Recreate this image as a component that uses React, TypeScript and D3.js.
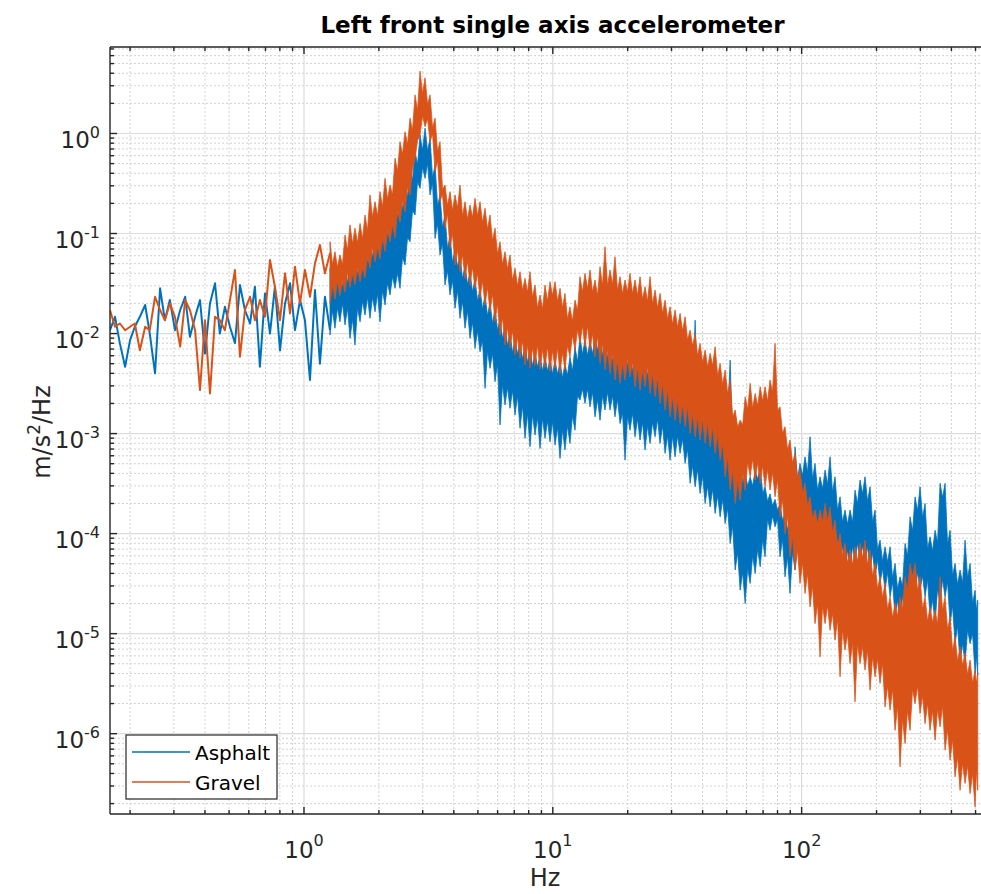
import React from 'react';
import * as d3 from 'd3';

// Low-frequency part of each spectrum, where single samples are still resolved
const lowFreqHz = [0.166, 0.174, 0.182, 0.191, 0.2, 0.209, 0.219, 0.23, 0.24, 0.252, 0.264, 0.276, 0.289, 0.303, 0.318, 0.333, 0.348, 0.365, 0.382, 0.4, 0.419, 0.439, 0.459, 0.481, 0.504, 0.528, 0.553, 0.579, 0.607, 0.635, 0.665, 0.697, 0.73, 0.764, 0.801, 0.839, 0.879, 0.92, 0.964, 1.009, 1.057, 1.107, 1.159, 1.214, 1.272];
const asphaltLowPsd = [1.08e-2, 1.47e-2, 7.97e-3, 4.66e-3, 8.6e-3, 1.17e-2, 1.47e-2, 1.93e-2, 1.0e-2, 4.0e-3, 2.83e-2, 1.36e-2, 2.16e-2, 1.08e-2, 1.72e-2, 2.33e-2, 9.3e-3, 1.47e-2, 2.16e-2, 6.3e-3, 2.0e-2, 3.18e-2, 1.0e-2, 1.85e-2, 1.17e-2, 8.0e-3, 3.05e-2, 1.72e-2, 1.26e-2, 2.94e-2, 4.66e-3, 2.52e-2, 1.0e-2, 2.94e-2, 6.8e-3, 2.0e-2, 3.18e-2, 1.08e-2, 2.16e-2, 1.36e-2, 3.43e-3, 2.72e-2, 5.0e-3, 2.33e-2, 1.08e-2];
const gravelLowPsd = [1.72e-2, 1.17e-2, 1.26e-2, 1.08e-2, 1.17e-2, 1.26e-2, 6.8e-3, 1.17e-2, 1.08e-2, 2.33e-2, 1.72e-2, 1.36e-2, 2.0e-2, 1.47e-2, 7.4e-3, 2.16e-2, 1.72e-2, 1.08e-2, 2.72e-3, 1.36e-2, 2.52e-3, 1.47e-2, 1.36e-2, 1.08e-2, 2.16e-2, 4.32e-2, 5.86e-3, 1.72e-2, 2.33e-2, 1.36e-2, 2.16e-2, 1.47e-2, 5.43e-2, 2.94e-2, 1.36e-2, 4.0e-2, 1.59e-2, 4.66e-2, 2.0e-2, 4.32e-2, 2.33e-2, 5.03e-2, 7.67e-2, 4.0e-2, 6.34e-2];

// Dense part of each spectrum: peak envelope (max / min) per frequency bin
const bandFreqHz = [
  1.272, 1.332, 1.395, 1.462, 1.531, 1.603, 1.68, 1.759, 1.842, 1.93, 2.021, 2.117, 2.217, 2.322, 2.432, 2.547, 2.668, 2.795, 2.927, 3.066, 3.211, 3.363, 3.521, 3.688, 3.863, 4.046, 4.237, 4.438, 4.648, 4.868, 5.099, 5.34, 5.593, 5.858, 6.135, 6.426, 6.73, 7.049, 7.383, 7.732, 8.098, 8.482, 8.884, 9.304, 9.745, 10.21, 10.69,
  11.19, 11.72, 12.28, 12.86, 13.47, 14.11, 14.78, 15.48, 16.21, 16.98, 17.78, 18.63, 19.51, 20.43, 21.4, 22.42, 23.48, 24.59, 25.76, 26.98, 28.26, 29.6, 31.0, 32.47, 34.01, 35.63, 37.32, 39.08, 40.94, 42.88, 44.91, 47.04, 49.27, 51.61, 54.06, 56.62, 59.3, 62.11, 65.06, 68.14,
  71.29, 74.65, 78.18, 81.88, 85.74, 89.81, 94.07, 98.5, 103.2, 108.1, 113.2, 118.6, 124.2, 130.1, 136.2, 142.7, 149.4, 156.5, 163.9, 171.7, 179.8, 188.4, 197.3, 206.6, 216.4, 226.7, 237.4, 248.6, 260.4, 272.8, 285.7, 299.2, 313.4, 328.2, 343.8, 360.1, 377.1, 395.0, 413.7, 433.3, 453.8, 475.3, 497.8, 510
];
const asphaltUpper = [
  4.49e-2, 4.15e-2, 4.84e-2, 4.49e-2, 5.65e-2, 5.22e-2, 6.1e-2, 7.11e-2, 8.28e-2, 9.66e-2, 0.113, 0.131, 0.165, 0.193, 0.243, 0.33, 0.449, 0.658, 0.966, 1.13, 0.895, 0.484, 0.243, 0.153, 9.66e-2, 7.11e-2, 6.1e-2, 4.84e-2, 4.15e-2, 3.56e-2, 2.83e-2, 2.43e-2, 2.08e-2, 1.79e-2, 1.42e-2, 1.22e-2, 1.04e-2, 8.95e-3, 8.28e-3, 7.67e-3, 7.11e-3, 6.58e-3, 6.1e-3, 5.86e-3, 5.65e-3, 5.43e-3, 5.22e-3,
  5.03e-3, 5.86e-3, 7.38e-3, 9.29e-3, 8.61e-3, 8.61e-3, 9.29e-3, 1.08e-2, 8.61e-3, 7.97e-3, 7.38e-3, 6.84e-3, 6.34e-3, 6.84e-3, 5.86e-3, 5.86e-3, 5.43e-3, 5.43e-3, 5.03e-3, 4.66e-3, 4.32e-3, 4.0e-3, 3.7e-3, 3.43e-3, 3.18e-3, 3.18e-3, 1.36e-2, 2.72e-3, 2.52e-3, 2.33e-3, 2.16e-3, 2.0e-3, 1.85e-3, 5.43e-3, 1.08e-3, 5.86e-4, 4.0e-4, 3.7e-4, 4.32e-4, 4.66e-4,
  2.94e-4, 2.5e-4, 2.2e-4, 2.0e-4, 1.6e-4, 1.3e-4, 7.38e-4, 5.03e-4, 5.86e-4, 9.29e-4, 5.03e-4, 3.7e-4, 4.32e-4, 5.86e-4, 3.7e-4, 2.33e-4, 1.72e-4, 1.72e-4, 2.72e-4, 3.43e-4, 3.7e-4, 2.94e-4, 1.72e-4, 8.61e-5, 7.38e-5, 7.38e-5, 5.03e-5, 3.7e-5, 7.97e-5, 1.47e-4, 2.33e-4, 2.94e-4, 2.0e-4, 9.29e-5, 1.08e-4, 3.18e-4, 3.18e-4, 1.08e-4, 5.03e-5, 4.32e-5, 8.61e-5, 5.03e-5, 2.72e-5, 2.16e-5
];
const asphaltLower = [
  9.66e-3, 1.13e-2, 1.31e-2, 1.22e-2, 8.95e-3, 7.67e-3, 1.31e-2, 1.53e-2, 1.42e-2, 1.65e-2, 1.31e-2, 1.93e-2, 2.43e-2, 2.83e-2, 2.83e-2, 4.84e-2, 8.28e-2, 0.153, 0.283, 0.356, 0.243, 8.95e-2, 6.1e-2, 3.05e-2, 2.43e-2, 1.79e-2, 1.42e-2, 1.13e-2, 8.95e-3, 7.11e-3, 6.58e-3, 2.83e-3, 4.49e-3, 3.3e-3, 1.22e-3, 1.93e-3, 1.79e-3, 1.53e-3, 1.13e-3, 8.95e-4, 7.38e-4, 9.66e-4, 7.11e-4, 8.95e-4, 8.28e-4, 7.67e-4, 5.65e-4,
  6.84e-4, 7.97e-4, 1.08e-3, 2.16e-3, 2.0e-3, 1.85e-3, 1.47e-3, 1.36e-3, 1.72e-3, 1.72e-3, 1.47e-3, 1.26e-3, 5.43e-4, 1.08e-3, 9.29e-4, 8.61e-4, 6.84e-4, 7.97e-4, 9.29e-4, 7.97e-4, 6.34e-4, 5.43e-4, 5.86e-4, 6.34e-4, 5.03e-4, 3.18e-4, 2.94e-4, 2.52e-4, 2.0e-4, 1.85e-4, 1.59e-4, 1.47e-4, 1.26e-4, 7.97e-5, 4.32e-5, 2.72e-5, 2.0e-5, 3.18e-5, 4.0e-5, 4.66e-5,
  5.86e-5, 1.08e-4, 1.17e-4, 5.86e-5, 3.7e-5, 2.52e-5, 4.32e-5, 5.03e-5, 5.43e-5, 6.84e-5, 7.97e-5, 7.97e-5, 8.61e-5, 7.38e-5, 5.86e-5, 5.03e-5, 4.32e-5, 4.32e-5, 5.03e-5, 5.43e-5, 5.03e-5, 4.32e-5, 3.7e-5, 3.18e-5, 2.72e-5, 2.33e-5, 1.47e-5, 1.08e-5, 1.72e-5, 2.0e-5, 2.72e-5, 2.72e-5, 2.33e-5, 1.47e-5, 1.26e-5, 2.0e-5, 2.33e-5, 1.26e-5, 7.97e-6, 5.03e-6, 5.03e-6, 7.97e-6, 4.0e-6, 3.8e-6
];
const gravelUpper = [
  8.28e-2, 6.58e-2, 6.1e-2, 9.66e-2, 0.122, 0.113, 0.126, 0.153, 0.243, 0.208, 0.262, 0.356, 0.305, 0.565, 0.828, 1.04, 1.42, 2.43, 4.2, 3.6, 2.43, 1.42, 0.828, 0.305, 0.262, 0.243, 0.305, 0.208, 0.193, 0.225, 0.208, 0.179, 0.153, 0.113, 8.28e-2, 6.58e-2, 6.1e-2, 4.49e-2, 4.15e-2, 3.56e-2, 4.15e-2, 3.05e-2, 2.43e-2, 3.05e-2, 3.3e-2, 3.3e-2, 2.83e-2,
  2.52e-2, 1.85e-2, 2.16e-2, 3.7e-2, 4.0e-2, 4.32e-2, 3.43e-2, 4.66e-2, 7.38e-2, 4.32e-2, 5.86e-2, 3.7e-2, 3.43e-2, 4.0e-2, 3.43e-2, 3.7e-2, 2.94e-2, 3.7e-2, 2.72e-2, 2.52e-2, 2.16e-2, 1.85e-2, 1.72e-2, 1.59e-2, 1.47e-2, 1.08e-2, 1.0e-2, 7.97e-3, 6.84e-3, 6.34e-3, 7.38e-3, 5.03e-3, 4.32e-3, 3.43e-3, 1.72e-3, 1.36e-3, 2.33e-3, 3.18e-3, 2.52e-3, 2.94e-3,
  2.94e-3, 3.43e-3, 7.97e-3, 1.85e-3, 1.17e-3, 8.61e-4, 6.34e-4, 4.32e-4, 3.18e-4, 2.33e-4, 1.72e-4, 1.72e-4, 2.0e-4, 1.85e-4, 1.36e-4, 1.0e-4, 7.97e-5, 6.84e-5, 7.38e-5, 7.97e-5, 8.61e-5, 6.84e-5, 5.03e-5, 3.7e-5, 3.18e-5, 2.33e-5, 2.0e-5, 2.33e-5, 3.7e-5, 5.03e-5, 5.03e-5, 3.7e-5, 2.33e-5, 1.85e-5, 1.72e-5, 3.7e-5, 2.33e-5, 1.47e-5, 9.29e-6, 7.38e-6, 6.34e-6, 5.43e-6, 4.32e-6, 4.0e-6
];
const gravelLower = [
  2.0e-2, 2.2e-2, 2.4e-2, 2.6e-2, 2.9e-2, 3.1e-2, 3.3e-2, 3.6e-2, 4.5e-2, 5.2e-2, 5.6e-2, 6.6e-2, 8.3e-2, 9.0e-2, 0.131, 0.165, 0.243, 0.565, 0.966, 1.17, 0.828, 0.415, 0.208, 0.113, 7.11e-2, 4.84e-2, 4.15e-2, 3.56e-2, 3.05e-2, 2.83e-2, 2.25e-2, 1.93e-2, 1.65e-2, 1.31e-2, 9.66e-3, 7.67e-3, 7.11e-3, 6.1e-3, 5.65e-3, 4.84e-3, 4.49e-3, 4.8e-3, 4.4e-3, 4.6e-3, 4.2e-3, 4.5e-3, 4.0e-3,
  4.32e-3, 5.86e-3, 6.84e-3, 7.97e-3, 7.38e-3, 6.84e-3, 5.86e-3, 5.03e-3, 4.32e-3, 4.0e-3, 3.43e-3, 3.18e-3, 3.43e-3, 3.7e-3, 2.94e-3, 2.72e-3, 2.94e-3, 2.52e-3, 2.33e-3, 2.0e-3, 1.72e-3, 1.47e-3, 1.36e-3, 1.26e-3, 1.17e-3, 1.0e-3, 9.29e-4, 8.61e-4, 7.97e-4, 7.38e-4, 6.34e-4, 5.43e-4, 3.7e-4, 2.72e-4, 2.0e-4, 2.16e-4, 2.72e-4, 3.7e-4, 3.43e-4, 3.18e-4,
  2.94e-4, 2.72e-4, 2.33e-4, 1.47e-4, 1.0e-4, 5.86e-5, 4.32e-5, 3.18e-5, 2.52e-5, 1.85e-5, 1.26e-5, 5.86e-6, 1.26e-5, 1.08e-5, 8.61e-6, 3.7e-6, 6.84e-6, 5.03e-6, 2.08e-6, 5.03e-6, 4.32e-6, 2.72e-6, 3.7e-6, 3.18e-6, 1.85e-6, 1.72e-6, 1.08e-6, 4.66e-7, 7.97e-7, 1.08e-6, 2.0e-6, 1.59e-6, 1.26e-6, 1.08e-6, 8.61e-7, 1.17e-6, 6.84e-7, 5.43e-7, 3.7e-7, 2.72e-7, 3.18e-7, 2.52e-7, 1.85e-7, 2.72e-7
];

// Between neighbouring peak bins: where the envelope falls back to the solid core
const bandMidFreqHz = [
  1.302, 1.363, 1.428, 1.496, 1.567, 1.641, 1.719, 1.8, 1.885, 1.975, 2.068, 2.167, 2.269, 2.376, 2.489, 2.607, 2.73, 2.86, 2.995, 3.138, 3.286, 3.442, 3.603, 3.774, 3.953, 4.141, 4.336, 4.542, 4.757, 4.982, 5.218, 5.465, 5.724, 5.995, 6.279, 6.576, 6.887, 7.214, 7.556, 7.913, 8.287, 8.68, 9.092, 9.522, 9.973, 10.45, 10.94,
  11.45, 11.99, 12.57, 13.16, 13.79, 14.44, 15.13, 15.84, 16.59, 17.38, 18.2, 19.07, 19.97, 20.91, 21.9, 22.94, 24.03, 25.17, 26.36, 27.61, 28.92, 30.29, 31.73, 33.23, 34.81, 36.46, 38.19, 40.0, 41.9, 43.88, 45.96, 48.14, 50.42, 52.82, 55.32, 57.95, 60.69, 63.56, 66.58, 69.74,
  72.96, 76.4, 80.01, 83.8, 87.75, 91.91, 96.27, 100.8, 105.6, 110.6, 115.9, 121.4, 127.1, 133.1, 139.4, 146.0, 152.9, 160.2, 167.7, 175.7, 184.0, 192.8, 201.9, 211.4, 221.5, 232.0, 243.0, 254.4, 266.5, 279.2, 292.4, 306.2, 320.7, 335.9, 351.8, 368.5, 385.9, 404.2, 423.4, 443.4, 464.4, 486.4, 504
];
const asphaltUpperCore = [
  2.9e-2, 3.1e-2, 2.9e-2, 3.2e-2, 3.7e-2, 3.9e-2, 4.1e-2, 5.1e-2, 5.8e-2, 7.0e-2,
  7.9e-2, 9.4e-2, 0.116, 0.145, 0.175, 0.23, 0.34, 0.49, 0.68, 0.67,
  0.36, 0.19, 0.115, 7.0e-2, 5.1e-2, 4.6e-2, 3.5e-2, 3.1e-2, 2.6e-2, 2.1e-2,
  1.75e-2, 1.5e-2, 1.25e-2, 1.07e-2, 8.8e-3, 7.5e-3, 6.4e-3, 6.2e-3, 5.5e-3, 5.1e-3,
  4.7e-3, 4.6e-3, 4.2e-3, 4.2e-3, 3.9e-3, 3.9e-3, 3.6e-3, 3.8e-3, 4.2e-3, 5.2e-3,
  6.2e-3, 6.0e-3, 6.2e-3, 6.7e-3, 6.0e-3, 5.7e-3, 5.3e-3, 4.9e-3, 4.6e-3, 4.8e-3,
  4.2e-3, 4.1e-3, 4.1e-3, 3.8e-3, 3.6e-3, 3.4e-3, 3.1e-3, 2.9e-3, 2.7e-3, 2.5e-3,
  2.4e-3, 2.3e-3, 2.4e-3, 2.2e-3, 1.8e-3, 1.7e-3, 1.55e-3, 1.45e-3, 1.33e-3, 1.4e-3,
  8.1e-4, 4.7e-4, 3.2e-4, 3.0e-4, 3.0e-4, 3.5e-4, 2.5e-4, 2.1e-4, 1.9e-4, 1.7e-4,
  1.35e-4, 1.1e-4, 1.2e-4, 3.5e-4, 3.8e-4, 4.1e-4, 3.5e-4, 2.7e-4, 2.8e-4, 3.1e-4,
  2.6e-4, 1.7e-4, 1.3e-4, 1.24e-4, 1.3e-4, 2.0e-4, 2.5e-4, 2.1e-4, 1.3e-4, 6.9e-5,
  5.3e-5, 5.2e-5, 3.6e-5, 2.8e-5, 3.0e-5, 6.0e-5, 1.06e-4, 1.7e-4, 1.45e-4, 7.0e-5,
  6.7e-5, 8.1e-5, 2.3e-4, 7.8e-5, 3.8e-5, 3.1e-5, 3.2e-5, 3.6e-5, 2.0e-5, 1.7e-5
];
const asphaltLowerCore = [
  1.7e-2, 1.8e-2, 2.0e-2, 1.8e-2, 1.4e-2, 1.8e-2, 2.1e-2, 2.3e-2, 2.3e-2, 2.5e-2,
  2.7e-2, 3.2e-2, 3.7e-2, 4.0e-2, 5.8e-2, 9.1e-2, 0.17, 0.33, 0.46, 0.5,
  0.32, 0.125, 7.9e-2, 4.3e-2, 3.4e-2, 2.7e-2, 2.1e-2, 1.7e-2, 1.3e-2, 1.07e-2,
  8.6e-3, 6.7e-3, 6.3e-3, 5.0e-3, 3.1e-3, 2.9e-3, 2.7e-3, 2.4e-3, 1.9e-3, 1.6e-3,
  1.55e-3, 1.45e-3, 1.43e-3, 1.34e-3, 1.32e-3, 1.15e-3, 1.1e-3, 1.2e-3, 1.5e-3, 2.4e-3,
  2.8e-3, 2.8e-3, 2.6e-3, 2.2e-3, 2.4e-3, 2.6e-3, 2.4e-3, 2.2e-3, 1.6e-3, 1.5e-3,
  1.6e-3, 1.4e-3, 1.3e-3, 1.2e-3, 1.3e-3, 1.4e-3, 1.2e-3, 9.5e-4, 9.4e-4, 9.5e-4,
  8.9e-4, 7.0e-4, 4.8e-4, 4.4e-4, 3.8e-4, 3.0e-4, 2.8e-4, 2.4e-4, 2.2e-4, 1.8e-4,
  1.2e-4, 6.5e-5, 4.1e-5, 4.5e-5, 6.0e-5, 7.0e-5, 8.8e-5, 1.4e-4, 1.5e-4, 1.4e-4,
  8.8e-5, 5.9e-5, 6.5e-5, 7.5e-5, 8.1e-5, 9.6e-5, 1.1e-4, 1.2e-4, 1.2e-4, 1.3e-4,
  1.1e-4, 8.8e-5, 7.5e-5, 6.9e-5, 7.5e-5, 8.1e-5, 7.6e-5, 7.5e-5, 6.5e-5, 5.5e-5,
  4.5e-5, 4.1e-5, 3.3e-5, 2.2e-5, 2.4e-5, 3.0e-5, 4.1e-5, 4.1e-5, 3.8e-5, 3.5e-5,
  2.2e-5, 2.8e-5, 3.5e-5, 3.3e-5, 1.9e-5, 1.2e-5, 8.0e-6, 1.1e-5, 1.0e-5, 6.0e-6
];
const gravelUpperCore = [
  4.9e-2, 4.6e-2, 4.9e-2, 6.8e-2, 7.9e-2, 8.1e-2, 8.8e-2, 0.107, 0.146, 0.15,
  0.183, 0.22, 0.244, 0.42, 0.62, 0.78, 1.07, 1.7, 2.5, 1.95,
  1.14, 0.66, 0.275, 0.19, 0.17, 0.18, 0.15, 0.139, 0.145, 0.15,
  0.129, 0.11, 8.5e-2, 6.2e-2, 4.9e-2, 4.4e-2, 3.4e-2, 3.0e-2, 2.7e-2, 2.6e-2,
  2.3e-2, 1.8e-2, 1.75e-2, 2.1e-2, 2.4e-2, 2.1e-2, 1.8e-2, 1.4e-2, 1.33e-2, 1.7e-2,
  2.6e-2, 2.8e-2, 2.6e-2, 2.4e-2, 3.0e-2, 3.0e-2, 3.1e-2, 2.7e-2, 2.5e-2, 2.6e-2,
  2.5e-2, 2.4e-2, 2.2e-2, 2.1e-2, 1.96e-2, 1.8e-2, 1.6e-2, 1.4e-2, 1.24e-2, 1.15e-2,
  1.06e-2, 8.6e-3, 7.5e-3, 6.0e-3, 5.1e-3, 4.6e-3, 4.8e-3, 3.8e-3, 3.1e-3, 2.5e-3,
  1.46e-3, 1.16e-3, 1.22e-3, 1.75e-3, 1.8e-3, 1.9e-3, 2.1e-3, 2.1e-3, 2.6e-3, 1.7e-3,
  1.0e-3, 6.9e-4, 5.1e-4, 3.5e-4, 2.5e-4, 1.9e-4, 1.4e-4, 1.24e-4, 1.3e-4, 1.33e-4,
  1.0e-4, 7.5e-5, 6.0e-5, 5.1e-5, 4.9e-5, 5.3e-5, 5.7e-5, 4.9e-5, 3.8e-5, 2.8e-5,
  2.3e-5, 1.75e-5, 1.44e-5, 1.5e-5, 1.75e-5, 2.7e-5, 3.6e-5, 2.7e-5, 1.75e-5, 1.33e-5,
  1.3e-5, 1.24e-5, 1.7e-5, 1.1e-5, 6.7e-6, 5.3e-6, 4.8e-6, 3.9e-6, 3.2e-6, 3.2e-6
];
const gravelLowerCore = [
  3.1e-2, 3.4e-2, 3.4e-2, 4.1e-2, 4.0e-2, 4.6e-2, 4.7e-2, 5.9e-2, 7.3e-2, 7.3e-2,
  9.2e-2, 0.108, 0.126, 0.17, 0.215, 0.29, 0.45, 0.85, 1.5, 1.4,
  1.0, 0.54, 0.25, 0.158, 0.1, 6.8e-2, 6.2e-2, 5.3e-2, 4.6e-2, 4.0e-2,
  3.4e-2, 2.9e-2, 2.5e-2, 2.0e-2, 1.45e-2, 1.15e-2, 1.07e-2, 9.2e-3, 8.5e-3, 7.7e-3,
  7.2e-3, 7.7e-3, 6.9e-3, 7.4e-3, 6.8e-3, 7.2e-3, 6.5e-3, 7.6e-3, 9.6e-3, 1.1e-2,
  1.2e-2, 1.2e-2, 1.0e-2, 9.4e-3, 8.0e-3, 6.9e-3, 6.4e-3, 5.5e-3, 5.1e-3, 5.6e-3,
  5.2e-3, 4.7e-3, 4.4e-3, 4.7e-3, 4.0e-3, 3.7e-3, 3.2e-3, 2.8e-3, 2.4e-3, 2.2e-3,
  2.0e-3, 1.9e-3, 1.6e-3, 1.5e-3, 1.4e-3, 1.3e-3, 1.2e-3, 1.0e-3, 8.1e-4, 5.9e-4,
  4.4e-4, 3.5e-4, 4.1e-4, 5.2e-4, 5.6e-4, 5.1e-4, 4.8e-4, 4.4e-4, 4.1e-4, 3.5e-4,
  2.2e-4, 1.5e-4, 9.4e-5, 6.9e-5, 5.1e-5, 4.0e-5, 3.0e-5, 2.0e-5, 1.9e-5, 1.9e-5,
  1.6e-5, 1.4e-5, 1.1e-5, 1.0e-5, 8.0e-6, 8.0e-6, 7.5e-6, 6.9e-6, 5.9e-6, 5.6e-6,
  5.1e-6, 3.0e-6, 2.8e-6, 1.9e-6, 1.4e-6, 1.7e-6, 2.8e-6, 3.0e-6, 2.4e-6, 2.0e-6,
  1.7e-6, 1.75e-6, 1.9e-6, 1.1e-6, 8.7e-7, 5.9e-7, 5.1e-7, 4.8e-7, 4.0e-7, 4.4e-7
];

const seriesNames = ['Asphalt', 'Gravel'];
const seriesColors = ['#0072BD', '#D95319'];
const xTickExponents = [0, 1, 2];
const yTickExponents = [-6, -5, -4, -3, -2, -1, 0];
const freqDomain = [0.1661, 598.6];
const psdDomain = [1.574e-7, 7.32];

const W = 981;
const H = 894;
const PLOT = { left: 110, right: 995, top: 47, bottom: 814 };
const FONT = '"DejaVu Sans", Verdana, sans-serif';
const AXIS = '#262626';

function minorValues(domain: number[]) {
  const out: number[] = [];
  const lo = Math.floor(Math.log10(domain[0]));
  const hi = Math.ceil(Math.log10(domain[1]));
  for (let d = lo; d <= hi; d++) {
    for (let k = 2; k <= 9; k++) {
      const v = k * Math.pow(10, d);
      if (v >= domain[0] && v <= domain[1]) out.push(v);
    }
  }
  return out;
}

// peak bins and the core bins between them, in frequency order
function edge(peaks: number[], core: number[]): [number, number][] {
  const pts: [number, number][] = [];
  bandFreqHz.forEach((f, i) => {
    pts.push([f, peaks[i]]);
    if (i < bandMidFreqHz.length) pts.push([bandMidFreqHz[i], core[i]]);
  });
  return pts;
}

export default function App() {
  const x = d3.scaleLog().domain(freqDomain).range([PLOT.left, PLOT.right]);
  const y = d3.scaleLog().domain(psdDomain).range([PLOT.bottom, PLOT.top]);

  const xMinor = minorValues(freqDomain);
  const yMinor = minorValues(psdDomain);

  const trace = d3
    .line<number>()
    .x((_, i) => x(lowFreqHz[i]))
    .y((d) => y(d));

  const toPx = (p: [number, number]) => [x(p[0]), y(p[1])] as [number, number];
  const band = (upper: [number, number][], lower: [number, number][]) =>
    (d3.line()(upper.map(toPx).concat(lower.map(toPx).reverse())) || '') + 'Z';

  const series = [
    {
      low: asphaltLowPsd,
      upper: edge(asphaltUpper, asphaltUpperCore),
      lower: edge(asphaltLower, asphaltLowerCore),
    },
    {
      low: gravelLowPsd,
      upper: edge(gravelUpper, gravelUpperCore),
      lower: edge(gravelLower, gravelLowerCore),
    },
  ];

  return (
    <svg
      width={W}
      height={H}
      style={{ position: 'absolute', left: 0, top: 0, background: '#fff' }}
      fontFamily={FONT}
    >
      <defs>
        <clipPath id="plot-clip">
          <rect x={PLOT.left} y={PLOT.top} width={PLOT.right - PLOT.left} height={PLOT.bottom - PLOT.top} />
        </clipPath>
      </defs>
      <rect x={0} y={0} width={W} height={H} fill="#fff" />

      {/* grid */}
      <g>
        {xMinor.map((v) => (
          <line key={'xm' + v} x1={x(v)} x2={x(v)} y1={PLOT.top} y2={PLOT.bottom} stroke="#d2d2d2" strokeWidth={1} strokeDasharray="2,2" />
        ))}
        {yMinor.map((v) => (
          <line key={'ym' + v} x1={PLOT.left} x2={PLOT.right} y1={y(v)} y2={y(v)} stroke="#d2d2d2" strokeWidth={1} strokeDasharray="2,2" />
        ))}
        {xTickExponents.map((e) => (
          <line key={'xg' + e} x1={x(10 ** e)} x2={x(10 ** e)} y1={PLOT.top} y2={PLOT.bottom} stroke="#dcdcdc" strokeWidth={1.2} />
        ))}
        {yTickExponents.map((e) => (
          <line key={'yg' + e} x1={PLOT.left} x2={PLOT.right} y1={y(10 ** e)} y2={y(10 ** e)} stroke="#dcdcdc" strokeWidth={1.2} />
        ))}
      </g>

      {/* spectra */}
      <g clipPath="url(#plot-clip)">
        {series.map((s, i) => (
          <g key={seriesNames[i]}>
            <path d={trace(s.low) || ''} fill="none" stroke={seriesColors[i]} strokeWidth={2} strokeLinejoin="round" />
            <path d={band(s.upper, s.lower)} fill={seriesColors[i]} stroke={seriesColors[i]} strokeWidth={0.8} strokeLinejoin="miter" />
          </g>
        ))}
      </g>

      {/* axes box and ticks */}
      <g stroke={AXIS} strokeWidth={1.4}>
        <line x1={PLOT.left} x2={PLOT.right} y1={PLOT.bottom} y2={PLOT.bottom} />
        <line x1={PLOT.left} x2={PLOT.right} y1={PLOT.top} y2={PLOT.top} />
        <line x1={PLOT.left} x2={PLOT.left} y1={PLOT.top} y2={PLOT.bottom} />
        {xMinor.map((v) => (
          <g key={'xt' + v}>
            <line x1={x(v)} x2={x(v)} y1={PLOT.bottom} y2={PLOT.bottom - 4} />
            <line x1={x(v)} x2={x(v)} y1={PLOT.top} y2={PLOT.top + 4} />
          </g>
        ))}
        {xTickExponents.map((e) => (
          <g key={'xT' + e}>
            <line x1={x(10 ** e)} x2={x(10 ** e)} y1={PLOT.bottom} y2={PLOT.bottom - 7} />
            <line x1={x(10 ** e)} x2={x(10 ** e)} y1={PLOT.top} y2={PLOT.top + 7} />
          </g>
        ))}
        {yMinor.map((v) => (
          <line key={'yt' + v} x1={PLOT.left} x2={PLOT.left + 4} y1={y(v)} y2={y(v)} />
        ))}
        {yTickExponents.map((e) => (
          <line key={'yT' + e} x1={PLOT.left} x2={PLOT.left + 7} y1={y(10 ** e)} y2={y(10 ** e)} />
        ))}
      </g>

      {/* tick labels */}
      <g fill={AXIS} fontSize={23}>
        {xTickExponents.map((e) => (
          <text key={'xl' + e} x={x(10 ** e)} y={858} textAnchor="middle">
            10<tspan fontSize={16} dy={-12}>{e}</tspan>
          </text>
        ))}
        {yTickExponents.map((e) => (
          <text key={'yl' + e} x={100} y={y(10 ** e) + 14.5} textAnchor="end">
            10<tspan fontSize={16} dy={-10}>{e}</tspan>
          </text>
        ))}
      </g>

      {/* axis labels and title */}
      <text x={(PLOT.left + PLOT.right) / 2} y={33} textAnchor="middle" fontSize={23} fontWeight="bold" fill="#000">
        Left front single axis accelerometer
      </text>
      <text x={545} y={886} textAnchor="middle" fontSize={24} fill={AXIS}>
        Hz
      </text>
      <text transform="translate(50,432) rotate(-90)" textAnchor="middle" fontSize={24} fill={AXIS}>
        m/s<tspan fontSize={17} dy={-10}>2</tspan><tspan dy={10}>/Hz</tspan>
      </text>

      {/* legend */}
      <g>
        <rect x={126} y={735} width={151} height={64} fill="#fff" stroke={AXIS} strokeWidth={1.2} />
        {seriesNames.map((name, i) => (
          <g key={name}>
            <line x1={132} x2={190} y1={752 + i * 30} y2={752 + i * 30} stroke={seriesColors[i]} strokeWidth={1.5} />
            <text x={195} y={760 + i * 30} fontSize={20} fill="#000">
              {name}
            </text>
          </g>
        ))}
      </g>
    </svg>
  );
}
